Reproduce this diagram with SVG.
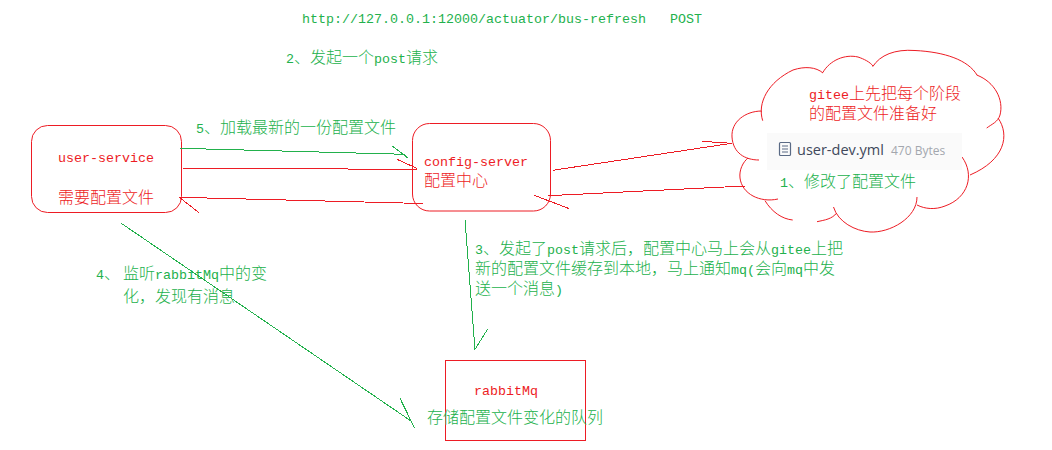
<svg xmlns="http://www.w3.org/2000/svg" width="1052" height="450" viewBox="0 0 1052 450">
<style>
text{font-family:"Noto Sans CJK SC","Liberation Mono",monospace;font-size:16px;white-space:pre;font-weight:300}
.l{font-family:"Liberation Mono",monospace;font-size:13.33px;font-weight:400}
.g{fill:#22b14c}
.r{fill:#ed1c24}
.bx{fill:none;stroke:#ed1c24;stroke-width:1}
.cr{fill:none;stroke:#ed1c24;stroke-width:1;shape-rendering:crispEdges}
.cg{fill:none;stroke:#22b14c;stroke-width:1;shape-rendering:crispEdges}
</style>
<rect width="1052" height="450" fill="#ffffff"/>
<g id="labels">
<text class="g l" x="302" y="23">http://127.0.0.1:12000/actuator/bus-refresh   POST</text>
<text class="g" x="286" y="63"><tspan class="l">2</tspan>、发起一个<tspan class="l">post</tspan>请求</text>
<text class="g" x="196" y="133"><tspan class="l">5</tspan>、加载最新的一份配置文件</text>
<text class="g" x="475" y="254"><tspan class="l">3</tspan>、发起了<tspan class="l">post</tspan>请求后&#65292;配置中心马上会从<tspan class="l">gitee</tspan>上把</text>
<text class="g" x="475" y="274">新的配置文件缓存到本地&#65292;马上通知<tspan class="l">mq(</tspan>会向<tspan class="l">mq</tspan>中发</text>
<text class="g" x="475" y="294">送一个消息<tspan class="l">)</tspan></text>
<text class="g" x="96" y="279"><tspan class="l">4</tspan>、</text>
<text class="g" x="123" y="279">监听<tspan class="l">rabbitMq</tspan>中的变</text>
<text class="g" x="123" y="302">化&#65292;发现有消息</text>
</g>
<g id="user-service">
<rect class="bx" x="31.5" y="125.5" width="150" height="87" rx="16"/>
<text class="r l" x="58" y="162">user-service</text>
<text class="r" x="58" y="203">需要配置文件</text>
</g>
<g id="config-server">
<rect class="bx" x="412.5" y="123.5" width="138" height="87.5" rx="17"/>
<text class="r l" x="424" y="166">config-server</text>
<text class="r" x="424" y="186">配置中心</text>
</g>
<g id="rabbitMq">
<rect class="bx" x="445.5" y="360.5" width="140" height="79.5" style="shape-rendering:crispEdges"/>
<text class="r l" x="474" y="395">rabbitMq</text>
<text class="g" x="427" y="423">存储配置文件变化的队列</text>
</g>
<g id="gitee">
<path class="cr" style="shape-rendering:auto" d="M762.7 120.7C757 103 768 82 793 70C805 66 816 67 823 73M822.7 72.7C830 60 845 54 858 57C864 59 870 62 873 66M872.7 66.7C880 55 895 49 915 50.5C945 52 968 60 977 75M976.7 75C995 82 1004 100 1000 115C998 122 992 124 986.7 128M998 118C1010 135 1005 160 970 175M962 157C975 175 968 198 945 206C935 210 925 209 917 205M917 197C917 218 890 233 870 232C855 231 838 222 833.5 207M836.7 213C832 219 825 220 817 221.7M792.7 220C782 219 772 212 765 200.7M778 199C760 203 742 194 740 178C739 170 743 162 748 158M759 160C745 160 733 153 732 137C731 122 745 111 762 111"/>
<rect x="767" y="133" width="195" height="37" fill="#fafafa"/>
<rect x="779.5" y="142.5" width="11" height="13" rx="1" fill="none" stroke="#5a6a85" stroke-width="1.2"/>
<path d="M782 146H788M782 149H788M782 152H788" fill="none" stroke="#5a6a85" stroke-width="1"/>
<text x="797" y="155" style="font-family:'Open Sans',sans-serif;font-size:14.5px;fill:#40485b;font-weight:400">user-dev.yml</text>
<text x="891" y="155" style="font-family:'Open Sans',sans-serif;font-size:12px;fill:#a3a7ae;font-weight:400">470 Bytes</text>
<text class="r" x="809" y="99"><tspan class="l">gitee</tspan>上先把每个阶段</text>
<text class="r" x="809" y="119">的配置文件准备好</text>
<text class="g" x="780" y="187"><tspan class="l">1</tspan>、修改了配置文件</text>
</g>
<g id="connectors">
<path class="cg" d="M179.7 148.3L405 154.3M391.7 145.7L408 158"/>
<path class="cr" d="M183 168.3L417 169.3M397 159.3L416.7 168.3"/>
<path class="cr" d="M423 203.5L179.3 197.3L199 212.7"/>
<path class="cr" d="M552.7 170.3L731.7 143.3L702 141.3"/>
<path class="cr" d="M745 186L548.3 195.7M534.3 195.3L569.3 208.7"/>
<path class="cg" d="M465 220L475 349.3L487.7 329"/>
<path class="cg" d="M121.3 223.3L411 421M400 398.3L414.7 428.3"/>
</g>
</svg>
